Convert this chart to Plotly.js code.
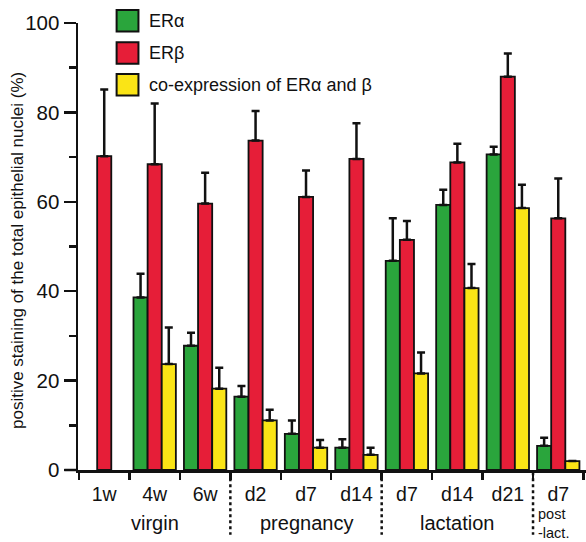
<!DOCTYPE html>
<html>
<head>
<meta charset="utf-8">
<script src="https://cdn.plot.ly/plotly-3.0.1.min.js"></script>
<style>html,body{margin:0;padding:0;background:#fff;}#chart{width:586px;height:542px;}</style>
</head>
<body>
<div id="chart"></div>
<script>
// ---- data ----
var stageLabels = ['1w', '4w', '6w', 'd2', 'd7', 'd14', 'd7', 'd14', 'd21', 'd7'];
var groupNames = ['virgin', 'pregnancy', 'lactation', 'post<br>-lact.'];
var groupCenters = [1, 4, 7, 8.5];
var groupDividers = [2.5, 5.5, 8.5];
var yTitle = 'positive staining of the total epithelial nuclei (%)';

var erAlpha    = [null, 38.6, 27.8, 16.4, 8.1, 5.0, 46.8, 59.3, 70.6, 5.4];
var erAlphaErr = [null, 5.3, 2.9, 2.4, 3.0, 1.9, 9.5, 3.4, 1.7, 1.8];
var erBeta     = [70.2, 68.4, 59.6, 73.7, 61.1, 69.6, 51.5, 68.8, 88.0, 56.3];
var erBetaErr  = [14.9, 13.6, 6.9, 6.6, 5.9, 8.0, 4.2, 4.2, 5.2, 8.9];
var coExpr     = [null, 23.7, 18.2, 11.1, 5.0, 3.4, 21.6, 40.7, 58.6, 2.0];
var coExprErr  = [null, 8.2, 4.7, 2.4, 1.7, 1.6, 4.7, 5.4, 5.2, null];

var seriesNames = ['ERα', 'ERβ', 'co-expression of ERα and β'];
var colors = ['rgb(42,165,60)', 'rgb(230,30,56)', 'rgb(250,228,22)'];

// ---- build ----
var xIdx = stageLabels.map(function (_, i) { return i; });
var zeros = stageLabels.map(function () { return 0; });
function mkTrace(name, y, err, color) {
  return {
    type: 'bar', name: name, x: xIdx, y: y,
    marker: { color: color, line: { color: '#111', width: 1.8 } },
    error_y: { type: 'data', symmetric: false, array: err, arrayminus: zeros,
               color: '#111', thickness: 2.5, width: 4 },
    showlegend: false, hoverinfo: 'y'
  };
}
var data = [
  mkTrace(seriesNames[0], erAlpha, erAlphaErr, colors[0]),
  mkTrace(seriesNames[1], erBeta, erBetaErr, colors[1]),
  mkTrace(seriesNames[2], coExpr, coExprErr, colors[2])
];

var font = 'Liberation Sans, Arial, Helvetica, sans-serif';
var boundaries = [];
for (var b = -0.5; b <= stageLabels.length - 0.5; b += 1) boundaries.push(b);

var shapes = [];
var annotations = [];
// dotted group dividers below the axis
groupDividers.forEach(function (d) {
  shapes.push({ type: 'line', xref: 'x', yref: 'paper', x0: d, x1: d, y0: -0.005, y1: -0.145,
                line: { color: '#111', width: 2.5, dash: 'dot' } });
});
// small axis stub to the left
shapes.push({ type: 'line', xref: 'paper', yref: 'paper', x0: -0.027, x1: 0, y0: 0, y1: 0,
              line: { color: '#111', width: 2.5 } });
// group labels
groupNames.forEach(function (g, i) {
  var last = i === groupNames.length - 1;
  annotations.push({
    xref: 'x', yref: 'paper', x: groupCenters[i], y: last ? -0.079 : -0.118,
    text: g, showarrow: false, xanchor: last ? 'left' : 'center', yanchor: last ? 'top' : 'middle',
    xshift: last ? 4 : 0, align: 'left', borderpad: 0,
    font: { family: font, size: last ? 14.5 : 20, color: '#111' }
  });
});
// y-axis title
annotations.push({ xref: 'paper', yref: 'paper', x: -0.118, y: 0.49, text: yTitle,
                   textangle: -90, showarrow: false, xanchor: 'center', yanchor: 'middle',
                   font: { family: font, size: 17, color: '#111' } });
// manual legend
var legY = [1.005, 0.933, 0.862];
seriesNames.forEach(function (n, i) {
  shapes.push({ type: 'rect', xref: 'paper', yref: 'paper',
                x0: 0.076, x1: 0.119, y0: legY[i] - 0.024, y1: legY[i] + 0.024,
                fillcolor: colors[i], line: { color: '#111', width: 2 } });
  annotations.push({ xref: 'paper', yref: 'paper', x: 0.136, y: legY[i], text: n,
                     showarrow: false, xanchor: 'left', yanchor: 'middle',
                     font: { family: font, size: 18, color: '#111' } });
});

var layout = {
  width: 586, height: 542,
  margin: { l: 78, r: 0, t: 23, b: 72, pad: 0 },
  paper_bgcolor: '#fff', plot_bgcolor: '#fff',
  barmode: 'group', bargap: 0.16, bargroupgap: 0,
  font: { family: font, color: '#111' },
  xaxis: {
    range: [-0.52, 9.55], showgrid: false, zeroline: false,
    showline: true, linecolor: '#111', linewidth: 2.5,
    tickmode: 'array', tickvals: xIdx, ticktext: stageLabels, ticks: '',
    ticklabelstandoff: 5,
    tickfont: { family: font, size: 19.5, color: '#111' },
    minor: { tickmode: 'array', tickvals: boundaries, ticks: 'outside', ticklen: 7,
             tickwidth: 2.5, tickcolor: '#111', showgrid: false }
  },
  yaxis: {
    range: [0, 100], showgrid: false, zeroline: false,
    showline: true, linecolor: '#111', linewidth: 2.5,
    tickmode: 'linear', tick0: 0, dtick: 20,
    ticks: 'outside', ticklen: 12, tickwidth: 2.5, tickcolor: '#111',
    tickfont: { family: font, size: 20.5, color: '#111' },
    minor: { dtick: 10, ticks: 'outside', ticklen: 7, tickwidth: 2.5, tickcolor: '#111', showgrid: false }
  },
  shapes: shapes,
  annotations: annotations
};

Plotly.newPlot('chart', data, layout, { displayModeBar: false, staticPlot: true });
</script>
</body>
</html>
